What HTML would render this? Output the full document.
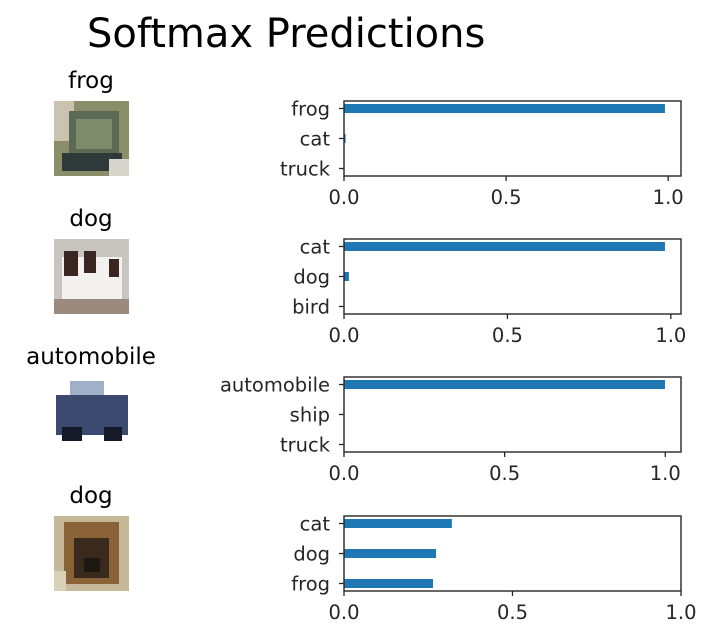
<!DOCTYPE html>
<html><head><meta charset="utf-8"><style>
body{margin:0;background:#fff;}
svg{display:block;font-family:"DejaVu Sans","Liberation Sans",sans-serif;}
</style></head><body>
<svg id="c" width="711" height="639" viewBox="0 0 711 639">
<text x="87" y="47" font-size="40" fill="#000">Softmax Predictions</text>
<g id="imgs"></g>
<g id="plots"></g>
</svg>
<script>
const titles = ["frog","dog","automobile","dog"];
const labels = [["truck","cat","frog"],["bird","dog","cat"],["truck","ship","automobile"],["frog","dog","cat"]];
const values = [[0.0,0.005,0.99],[0.001,0.015,0.982],[0.0,0.0,0.999],[0.264,0.273,0.32]];
const xticks = [0,0.5,1.0];
const xtickLabels = ["0.0","0.5","1.0"];

const NS="http://www.w3.org/2000/svg";
function el(t,a,p){const e=document.createElementNS(NS,t);for(const k in a)e.setAttribute(k,a[k]);p.appendChild(e);return e;}
const plots=document.getElementById('plots'), imgs=document.getElementById('imgs');
const tops=[101,239,377,516];
const L=344,R=681,H=75;
const imgStyles=[
 [["#8a8f6a",0,0,75,75],["#c9c3b0",0,0,20,40],["#5c6a55",15,10,50,45],["#7e8b6a",22,18,36,30],["#2e3a3a",8,52,60,18],["#d8d6cc",55,58,20,17]],
 [["#c8c4c0",0,0,75,75],["#f3f1f0",8,18,60,45],["#3a2520",10,12,14,25],["#3a2520",30,12,12,22],["#3a2520",55,20,10,18],["#9c8a7e",0,60,75,15]],
 [["#ffffff",0,0,75,75],["#9fb0c8",16,4,34,18],["#3c4a70",2,18,72,40],["#15192a",8,50,20,14],["#15192a",50,50,18,14]],
 [["#c6b99a",0,0,75,75],["#8a6238",10,6,55,62],["#3a2a1e",20,22,35,40],["#1e1812",30,42,16,14],["#d8d2b8",0,55,12,20]]
];
for(let i=0;i<titles.length;i++){
  const top=tops[i];
  const t=el('text',{x:91,y:top-13,'font-size':23,'text-anchor':'middle',fill:'#000'},imgs);
  t.textContent=titles[i];
  
  
  const g=el('g',{},imgs);
  
  
  imgStyles[i].forEach(s=>el('rect',{x:54+s[1],y:top+s[2],width:s[3],height:s[4],fill:s[0]},g));

  const vals=values[i];
  const mx=Math.max(...vals)*1.05;
  const xmax=mx<1?1:mx;
  const xs=v=>L+(v/xmax)*(R-L);
  const ys=k=>top+7.5+(2-k)*30;
  const ax=el('g',{},plots);
  
  
  vals.forEach((v,k)=>{
    const b=el('rect',{x:xs(0),y:ys(k)-4.5,width:Math.max(0,xs(v)-xs(0)),height:9,fill:'#1f77b4'},ax);
    
    
    el('line',{x1:L-5,x2:L,y1:ys(k),y2:ys(k),stroke:'#262626','stroke-width':1.3},ax);
    const tl=el('text',{x:L-14,y:ys(k)+7,'font-size':19.5,'text-anchor':'end',fill:'#262626'},ax);
    tl.textContent=labels[i][k];
    
    
  });
  el('rect',{x:L,y:top,width:R-L,height:H,fill:'none',stroke:'#262626','stroke-width':1.4},ax);
  xticks.forEach((v,k)=>{
    const x=xs(v);
    el('line',{x1:x,x2:x,y1:top+H,y2:top+H+5,stroke:'#262626','stroke-width':1.3},ax);
    const xl=el('text',{x:x,y:top+H+28,'font-size':19.5,'text-anchor':'middle',fill:'#262626'},ax);
    xl.textContent=xtickLabels[k];
    
    
  });
}
</script>
</body></html>
